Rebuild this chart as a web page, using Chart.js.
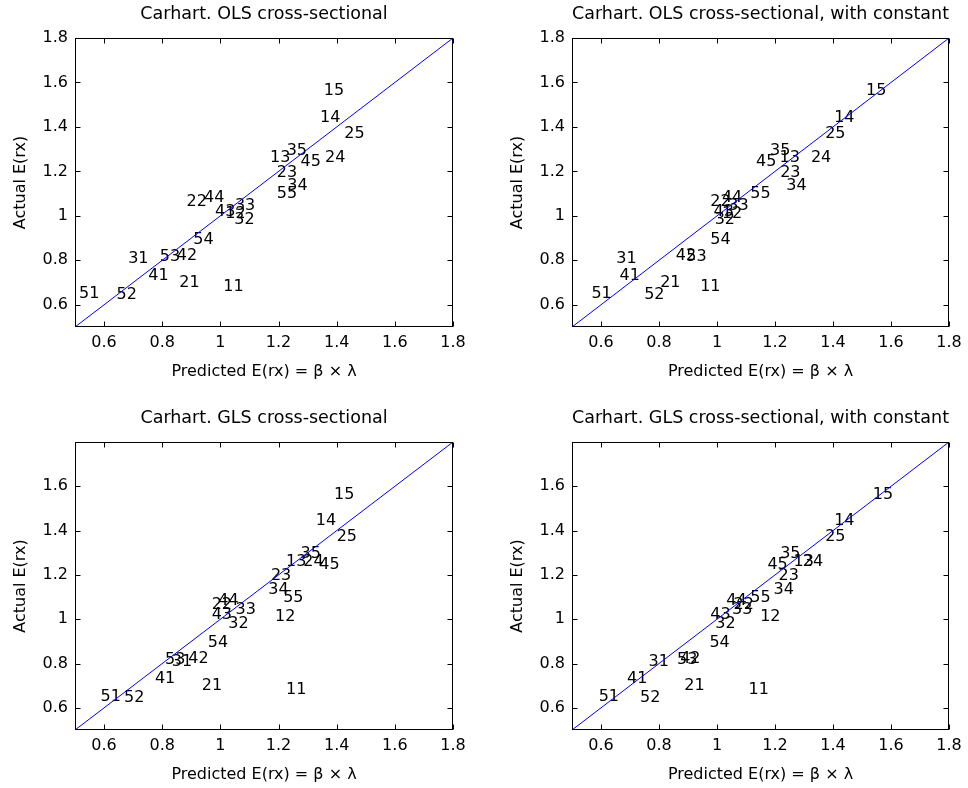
<!DOCTYPE html>
<html><head><meta charset="utf-8">
<script src="https://cdn.jsdelivr.net/npm/chart.js@4.4.1/dist/chart.umd.min.js"></script>
<style>
html,body{margin:0;padding:0;background:#fff;}
body{width:968px;height:788px;position:relative;overflow:hidden;}
.p{position:absolute;width:484px;height:394px;}
</style></head><body>
<div class="p" style="left:0;top:0"><canvas id="c1" width="484" height="394"></canvas></div>
<div class="p" style="left:484px;top:0"><canvas id="c2" width="484" height="394"></canvas></div>
<div class="p" style="left:0;top:394px"><canvas id="c3" width="484" height="394"></canvas></div>
<div class="p" style="left:484px;top:394px"><canvas id="c4" width="484" height="394"></canvas></div>
<script>
// ---- data ----
const ports = ['11','12','13','14','15','21','22','23','24','25','31','32','33','34','35','41','42','43','44','45','51','52','53','54','55'];
const actual = [0.681,1.011,1.259,1.442,1.562, 0.699,1.064,1.194,1.259,1.371, 0.807,0.981,1.044,1.134,1.293, 0.731,0.819,1.019,1.082,1.244, 0.648,0.644,0.816,0.894,1.097];
const predOLS = [1.003,1.010,1.164,1.336,1.349, 0.852,0.877,1.187,1.353,1.419, 0.676,1.041,1.043,1.223,1.221, 0.745,0.843,0.975,0.937,1.269, 0.507,0.636,0.785,0.900,1.187];
const predOLSc = [0.935,1.010,1.209,1.397,1.507, 0.797,0.970,1.211,1.317,1.366, 0.646,0.985,1.032,1.232,1.176, 0.657,0.851,0.981,1.010,1.128, 0.560,0.742,0.887,0.970,1.108];
const predGLS = [1.219,1.181,1.219,1.321,1.384, 0.929,0.963,1.167,1.278,1.393, 0.826,1.020,1.045,1.158,1.269, 0.768,0.883,0.963,0.986,1.333, 0.581,0.662,0.803,0.950,1.209];
const predGLSc = [1.102,1.142,1.257,1.397,1.530, 0.880,1.050,1.205,1.289,1.366, 0.757,0.987,1.045,1.188,1.211, 0.683,0.866,0.970,1.025,1.167, 0.585,0.728,0.855,0.967,1.108];
const diagLine = [0.5, 1.8];
const xTicks = [0.6,0.8,1,1.2,1.4,1.6,1.8];
const yTicksTop = [0.6,0.8,1,1.2,1.4,1.6,1.8];
const yTicksBottom = [0.6,0.8,1,1.2,1.4,1.6];
const titles = ['Carhart. OLS cross-sectional','Carhart. OLS cross-sectional, with constant','Carhart. GLS cross-sectional','Carhart. GLS cross-sectional, with constant'];
const xLabel = 'Predicted E(rx) = \u03B2 \u00D7 \u03BB';
const yLabel = 'Actual E(rx)';

// ---- rendering ----
const FONT = "'DejaVu Sans', 'Liberation Sans', Arial, sans-serif";
const tickFont = {family: FONT, size: 16, weight: 'normal'};
const fmt = v => String(Math.round(v * 10) / 10);

const labelPlugin = {
  id: 'ptLabels',
  beforeDatasetsDraw(chart) {
    const meta = chart.getDatasetMeta(1);
    const ctx = chart.ctx;
    ctx.save();
    ctx.font = "16px " + FONT;
    ctx.fillStyle = '#000';
    ctx.textAlign = 'left';
    ctx.textBaseline = 'middle';
    meta.data.forEach((el, i) => {
      ctx.fillText(ports[i], el.x + 2, el.y);
    });
    ctx.restore();
  }
};

const framePlugin = {
  id: 'frame',
  afterDatasetsDraw(chart) {
    const {ctx, chartArea: a, scales: {x, y}} = chart;
    const L = 5;
    const l = Math.round(a.left) + 0.5, r = Math.round(a.right) - 0.5;
    const t = Math.round(a.top) + 0.5, b = Math.round(a.bottom) - 0.5;
    ctx.save();
    ctx.strokeStyle = '#000';
    ctx.lineWidth = 1;
    ctx.beginPath();
    x.ticks.forEach(tk => {
      const px = Math.round(x.getPixelForValue(tk.value)) + 0.5;
      ctx.moveTo(px, b); ctx.lineTo(px, b - L);
      ctx.moveTo(px, t); ctx.lineTo(px, t + L);
    });
    y.ticks.forEach(tk => {
      const py = Math.round(y.getPixelForValue(tk.value)) + 0.5;
      ctx.moveTo(l, py); ctx.lineTo(l + L, py);
      ctx.moveTo(r, py); ctx.lineTo(r - L, py);
    });
    ctx.stroke();
    ctx.strokeRect(l, t, r - l, b - t);
    ctx.restore();
  }
};

function makePanel(id, title, pred, yTicks, g) {
  new Chart(document.getElementById(id), {
    type: 'scatter',
    data: {
      datasets: [
        {data: diagLine.map(v => ({x: v, y: v})), showLine: true, borderColor: '#0000ff', borderWidth: 1, pointRadius: 0, fill: false},
        {data: pred.map((p, i) => ({x: p, y: actual[i]})), pointRadius: 0, showLine: false}
      ]
    },
    options: {
      responsive: false, animation: false, events: [],
      layout: {padding: {left: 0, right: g.padR, top: 0, bottom: 0}},
      plugins: {
        legend: {display: false},
        tooltip: {enabled: false},
        title: {display: true, fullSize: false, text: title, color: '#000', font: {family: FONT, size: 17.5, weight: 'normal'}, padding: {top: g.tTop, bottom: g.tBot}}
      },
      scales: {
        x: {
          type: 'linear', min: 0.5, max: 1.8,
          grid: {display: false, drawTicks: false}, border: {display: false},
          afterBuildTicks: s => { s.ticks = xTicks.map(v => ({value: v})); },
          afterFit: s => { s.height = g.xH; },
          ticks: {padding: 6, color: '#000', font: tickFont, callback: v => fmt(v), maxRotation: 0, autoSkip: false},
          title: {display: true, text: xLabel, color: '#000', font: tickFont, padding: {top: 0, bottom: g.xTitlePad}}
        },
        y: {
          type: 'linear', min: 0.5, max: 1.8,
          grid: {display: false, drawTicks: false}, border: {display: false},
          afterBuildTicks: s => { s.ticks = yTicks.map(v => ({value: v})); },
          afterFit: s => { s.width = g.yW; },
          ticks: {padding: 7, color: '#000', font: tickFont, callback: v => fmt(v), autoSkip: false},
          title: {display: true, text: yLabel, color: '#000', font: tickFont, padding: {top: g.yTitlePad, bottom: 0}}
        }
      }
    },
    plugins: [labelPlugin, framePlugin]
  });
}

makePanel('c1', titles[0], predOLS, yTicksTop, {padR: 31, yW: 75, xH: 67, tTop: 3.5, tBot: 13.5, xTitlePad: 12.4, yTitlePad: 11.4});
makePanel('c2', titles[1], predOLSc, yTicksTop, {padR: 19, yW: 88, xH: 67, tTop: 3.5, tBot: 13.5, xTitlePad: 12.4, yTitlePad: 24.4});
makePanel('c3', titles[2], predGLS, yTicksBottom, {padR: 31, yW: 75, xH: 58, tTop: 13.5, tBot: 13.5, xTitlePad: 3.4, yTitlePad: 11.4});
makePanel('c4', titles[3], predGLSc, yTicksBottom, {padR: 19, yW: 88, xH: 58, tTop: 13.5, tBot: 13.5, xTitlePad: 3.4, yTitlePad: 24.4});
</script>
</body></html>
